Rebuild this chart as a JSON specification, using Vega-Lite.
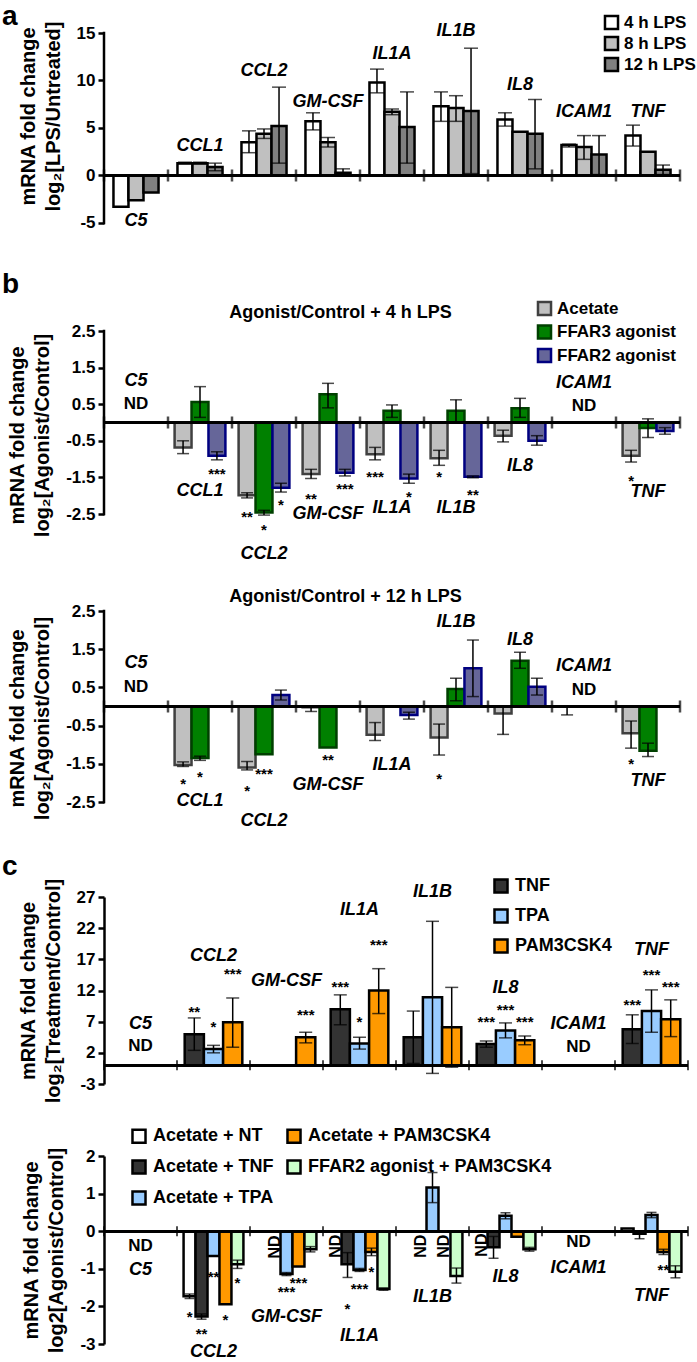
{
"$schema": "https://vega.github.io/schema/vega-lite/v6.json",
"padding": {"left": 2, "top": 3, "right": 2, "bottom": 0},
"bounds": "flush",
"spacing": 72,
"resolve": {"scale": {"fill": "independent", "stroke": "independent", "xOffset": "independent"}, "legend": {"fill": "independent", "stroke": "independent"}},
"datasets": {
"a_bars": [
{"gene":"C5","series":"4 h LPS","value":-3.3},
{"gene":"C5","series":"8 h LPS","value":-2.6},
{"gene":"C5","series":"12 h LPS","value":-1.8},
{"gene":"CCL1","series":"4 h LPS","value":1.3,"lo":1.2,"hi":1.4},
{"gene":"CCL1","series":"8 h LPS","value":1.3,"lo":1.2,"hi":1.4},
{"gene":"CCL1","series":"12 h LPS","value":0.9,"lo":0.5,"hi":1.3},
{"gene":"CCL2","series":"4 h LPS","value":3.5,"lo":2.4,"hi":4.7},
{"gene":"CCL2","series":"8 h LPS","value":4.4,"lo":3.9,"hi":4.9},
{"gene":"CCL2","series":"12 h LPS","value":5.2,"lo":1.3,"hi":9.3},
{"gene":"GM-CSF","series":"4 h LPS","value":5.7,"lo":4.8,"hi":6.6},
{"gene":"GM-CSF","series":"8 h LPS","value":3.5,"lo":3.0,"hi":4.0},
{"gene":"GM-CSF","series":"12 h LPS","value":0.3,"lo":0.0,"hi":0.7},
{"gene":"IL1A","series":"4 h LPS","value":9.8,"lo":8.7,"hi":11.2},
{"gene":"IL1A","series":"8 h LPS","value":6.7,"lo":6.4,"hi":7.0},
{"gene":"IL1A","series":"12 h LPS","value":5.1,"lo":1.3,"hi":8.8},
{"gene":"IL1B","series":"4 h LPS","value":7.3,"lo":5.7,"hi":8.8},
{"gene":"IL1B","series":"8 h LPS","value":7.1,"lo":5.7,"hi":8.4},
{"gene":"IL1B","series":"12 h LPS","value":6.8,"lo":0.2,"hi":13.4},
{"gene":"IL8","series":"4 h LPS","value":5.9,"lo":5.2,"hi":6.6},
{"gene":"IL8","series":"8 h LPS","value":4.6},
{"gene":"IL8","series":"12 h LPS","value":4.4,"lo":0.7,"hi":8.0},
{"gene":"ICAM1","series":"4 h LPS","value":3.2,"lo":3.0,"hi":3.3},
{"gene":"ICAM1","series":"8 h LPS","value":3.0,"lo":1.7,"hi":4.2},
{"gene":"ICAM1","series":"12 h LPS","value":2.2,"lo":0.1,"hi":4.2},
{"gene":"TNF","series":"4 h LPS","value":4.2,"lo":3.1,"hi":5.3},
{"gene":"TNF","series":"8 h LPS","value":2.5},
{"gene":"TNF","series":"12 h LPS","value":0.6,"lo":0.1,"hi":1.1}
],
"a_labels": [
{"gene":"C5","level":-4.8},{"gene":"CCL1","level":3.1},{"gene":"CCL2","level":11.0},{"gene":"GM-CSF","level":7.7},{"gene":"IL1A","level":12.8},{"gene":"IL1B","level":15.2},{"gene":"IL8","level":9.5},{"gene":"ICAM1","level":6.7},{"gene":"TNF","level":6.7}
],
"b1_bars": [
{"gene":"CCL1","series":"Acetate","value":-0.68,"lo":-0.85,"hi":-0.5},
{"gene":"CCL1","series":"FFAR3 agonist","value":0.56,"lo":0.14,"hi":0.98},
{"gene":"CCL1","series":"FFAR2 agonist","value":-0.91,"lo":-1.02,"hi":-0.8},
{"gene":"CCL2","series":"Acetate","value":-1.99,"lo":-2.06,"hi":-1.92},
{"gene":"CCL2","series":"FFAR3 agonist","value":-2.46,"lo":-2.53,"hi":-2.4},
{"gene":"CCL2","series":"FFAR2 agonist","value":-1.78,"lo":-1.9,"hi":-1.66},
{"gene":"GM-CSF","series":"Acetate","value":-1.41,"lo":-1.53,"hi":-1.28},
{"gene":"GM-CSF","series":"FFAR3 agonist","value":0.77,"lo":0.4,"hi":1.07},
{"gene":"GM-CSF","series":"FFAR2 agonist","value":-1.37,"lo":-1.46,"hi":-1.28},
{"gene":"IL1A","series":"Acetate","value":-0.87,"lo":-1.02,"hi":-0.68},
{"gene":"IL1A","series":"FFAR3 agonist","value":0.32,"lo":0.14,"hi":0.48},
{"gene":"IL1A","series":"FFAR2 agonist","value":-1.53,"lo":-1.66,"hi":-1.41},
{"gene":"IL1B","series":"Acetate","value":-0.98,"lo":-1.17,"hi":-0.76},
{"gene":"IL1B","series":"FFAR3 agonist","value":0.32,"lo":0.0,"hi":0.62},
{"gene":"IL1B","series":"FFAR2 agonist","value":-1.48,"lo":-1.51,"hi":-1.46},
{"gene":"IL8","series":"Acetate","value":-0.36,"lo":-0.53,"hi":-0.21},
{"gene":"IL8","series":"FFAR3 agonist","value":0.39,"lo":0.14,"hi":0.66},
{"gene":"IL8","series":"FFAR2 agonist","value":-0.5,"lo":-0.62,"hi":-0.36},
{"gene":"TNF","series":"Acetate","value":-0.91,"lo":-1.08,"hi":-0.76},
{"gene":"TNF","series":"FFAR3 agonist","value":-0.15,"lo":-0.41,"hi":0.1},
{"gene":"TNF","series":"FFAR2 agonist","value":-0.23,"lo":-0.32,"hi":-0.14}
],
"b1_stars": [
{"gene":"CCL1","series":"FFAR2 agonist","level":-1.32,"mark":"***"},
{"gene":"CCL2","series":"Acetate","level":-2.5,"mark":"**"},
{"gene":"CCL2","series":"FFAR3 agonist","level":-2.86,"mark":"*"},
{"gene":"CCL2","series":"FFAR2 agonist","level":-2.18,"mark":"*"},
{"gene":"GM-CSF","series":"Acetate","level":-2.0,"mark":"**"},
{"gene":"GM-CSF","series":"FFAR2 agonist","level":-1.73,"mark":"***"},
{"gene":"IL1A","series":"Acetate","level":-1.41,"mark":"***"},
{"gene":"IL1A","series":"FFAR2 agonist","level":-1.96,"mark":"*"},
{"gene":"IL1B","series":"Acetate","level":-1.41,"mark":"*"},
{"gene":"IL1B","series":"FFAR2 agonist","level":-1.91,"mark":"**"},
{"gene":"TNF","series":"Acetate","level":-1.53,"mark":"*"}
],
"b1_labels": [
{"gene":"C5","level":1.14},{"gene":"CCL1","level":-1.87},{"gene":"CCL2","level":-3.6},{"gene":"GM-CSF","level":-2.5},{"gene":"IL1A","level":-2.34},{"gene":"IL1B","level":-2.34},{"gene":"IL8","level":-1.18},{"gene":"ICAM1","level":1.09},{"gene":"TNF","level":-1.91}
],
"b1_nd": [{"gene":"C5","level":0.5},{"gene":"ICAM1","level":0.45}],
"b2_bars": [
{"gene":"CCL1","series":"Acetate","value":-1.53,"lo":-1.57,"hi":-1.45},
{"gene":"CCL1","series":"FFAR3 agonist","value":-1.35,"lo":-1.41,"hi":-1.3},
{"gene":"CCL2","series":"Acetate","value":-1.6,"lo":-1.66,"hi":-1.44},
{"gene":"CCL2","series":"FFAR3 agonist","value":-1.25},
{"gene":"CCL2","series":"FFAR2 agonist","value":0.3,"lo":0.17,"hi":0.43},
{"gene":"GM-CSF","series":"Acetate","value":-0.02,"lo":-0.13,"hi":0.0},
{"gene":"GM-CSF","series":"FFAR3 agonist","value":-1.07},
{"gene":"IL1A","series":"Acetate","value":-0.74,"lo":-0.89,"hi":-0.42},
{"gene":"IL1A","series":"FFAR2 agonist","value":-0.22,"lo":-0.33,"hi":-0.15},
{"gene":"IL1B","series":"Acetate","value":-0.81,"lo":-1.27,"hi":-0.46},
{"gene":"IL1B","series":"FFAR3 agonist","value":0.46,"lo":0.15,"hi":0.74},
{"gene":"IL1B","series":"FFAR2 agonist","value":1.0,"lo":0.26,"hi":1.74},
{"gene":"IL8","series":"Acetate","value":-0.18,"lo":-0.73,"hi":0.0},
{"gene":"IL8","series":"FFAR3 agonist","value":1.2,"lo":1.0,"hi":1.42},
{"gene":"IL8","series":"FFAR2 agonist","value":0.52,"lo":0.3,"hi":0.74},
{"gene":"ICAM1","series":"Acetate","value":0.0,"lo":-0.22,"hi":0.0},
{"gene":"TNF","series":"Acetate","value":-0.7,"lo":-1.09,"hi":-0.38},
{"gene":"TNF","series":"FFAR3 agonist","value":-1.16,"lo":-1.31,"hi":-0.96}
],
"b2_stars": [
{"gene":"CCL1","series":"Acetate","level":-1.96,"mark":"*"},
{"gene":"CCL1","series":"FFAR3 agonist","level":-1.77,"mark":"*"},
{"gene":"CCL2","series":"Acetate","level":-2.14,"mark":"*"},
{"gene":"CCL2","series":"FFAR3 agonist","level":-1.69,"mark":"***"},
{"gene":"GM-CSF","series":"FFAR3 agonist","level":-1.33,"mark":"**"},
{"gene":"IL1B","series":"Acetate","level":-1.82,"mark":"*"},
{"gene":"TNF","series":"Acetate","level":-1.43,"mark":"*"}
],
"b2_labels": [
{"gene":"C5","level":1.13},{"gene":"CCL1","level":-2.47},{"gene":"CCL2","level":-3.0},{"gene":"GM-CSF","level":-2.06},{"gene":"IL1A","level":-1.53},{"gene":"IL1B","level":2.22},{"gene":"IL8","level":1.74},{"gene":"ICAM1","level":1.05},{"gene":"TNF","level":-1.96}
],
"b2_nd": [{"gene":"C5","level":0.52},{"gene":"ICAM1","level":0.43}],
"c1_bars": [
{"gene":"CCL2","series":"TNF","value":5.0,"lo":2.4,"hi":7.6},
{"gene":"CCL2","series":"TPA","value":2.6,"lo":2.0,"hi":3.2},
{"gene":"CCL2","series":"PAM3CSK4","value":6.9,"lo":2.9,"hi":10.8},
{"gene":"GM-CSF","series":"PAM3CSK4","value":4.5,"lo":3.6,"hi":5.3},
{"gene":"IL1A","series":"TNF","value":9.0,"lo":6.5,"hi":11.3},
{"gene":"IL1A","series":"TPA","value":3.5,"lo":2.6,"hi":4.5},
{"gene":"IL1A","series":"PAM3CSK4","value":12.0,"lo":8.3,"hi":15.5},
{"gene":"IL1B","series":"TNF","value":4.5,"lo":0.3,"hi":8.7},
{"gene":"IL1B","series":"TPA","value":10.9,"lo":-1.3,"hi":23.1},
{"gene":"IL1B","series":"PAM3CSK4","value":6.1,"lo":-0.3,"hi":12.5},
{"gene":"IL8","series":"TNF","value":3.4,"lo":2.9,"hi":3.9},
{"gene":"IL8","series":"TPA","value":5.6,"lo":4.4,"hi":6.8},
{"gene":"IL8","series":"PAM3CSK4","value":4.0,"lo":3.3,"hi":4.7},
{"gene":"TNF","series":"TNF","value":5.8,"lo":3.5,"hi":8.1},
{"gene":"TNF","series":"TPA","value":8.7,"lo":5.3,"hi":12.1},
{"gene":"TNF","series":"PAM3CSK4","value":7.4,"lo":4.6,"hi":10.5}
],
"c1_stars": [
{"gene":"CCL2","series":"TNF","level":9.05,"mark":"**"},
{"gene":"CCL2","series":"TPA","level":6.6,"mark":"*"},
{"gene":"CCL2","series":"PAM3CSK4","level":15.1,"mark":"***"},
{"gene":"GM-CSF","series":"PAM3CSK4","level":8.6,"mark":"***"},
{"gene":"IL1A","series":"TNF","level":13.1,"mark":"***"},
{"gene":"IL1A","series":"TPA","level":7.4,"mark":"*"},
{"gene":"IL1A","series":"PAM3CSK4","level":19.8,"mark":"***"},
{"gene":"IL8","series":"TNF","level":7.4,"mark":"***"},
{"gene":"IL8","series":"TPA","level":9.3,"mark":"***"},
{"gene":"IL8","series":"PAM3CSK4","level":7.4,"mark":"***"},
{"gene":"TNF","series":"TNF","level":10.1,"mark":"***"},
{"gene":"TNF","series":"TPA","level":15.0,"mark":"***"},
{"gene":"TNF","series":"PAM3CSK4","level":13.1,"mark":"***"}
],
"c1_labels": [
{"gene":"C5","level":6.6},{"gene":"CCL2","level":17.6},{"gene":"GM-CSF","level":13.6},{"gene":"IL1A","level":24.9},{"gene":"IL1B","level":27.8},{"gene":"IL8","level":12.4},{"gene":"ICAM1","level":6.6},{"gene":"TNF","level":18.5}
],
"c1_nd": [{"gene":"C5","level":3.15},{"gene":"ICAM1","level":2.9}],
"c2_bars": [
{"gene":"CCL2","series":"Acetate + NT","value":-1.73,"lo":-1.79,"hi":-1.67},
{"gene":"CCL2","series":"Acetate + TNF","value":-2.27,"lo":-2.34,"hi":-2.2},
{"gene":"CCL2","series":"Acetate + TPA","value":-0.66},
{"gene":"CCL2","series":"Acetate + PAM3CSK4","value":-1.94},
{"gene":"CCL2","series":"FFAR2 agonist + PAM3CSK4","value":-0.88,"lo":-0.99,"hi":-0.77},
{"gene":"GM-CSF","series":"Acetate + TPA","value":-1.14,"lo":-1.18,"hi":-1.1},
{"gene":"GM-CSF","series":"Acetate + PAM3CSK4","value":-0.94},
{"gene":"GM-CSF","series":"FFAR2 agonist + PAM3CSK4","value":-0.48,"lo":-0.55,"hi":-0.41},
{"gene":"IL1A","series":"Acetate + TNF","value":-0.88,"lo":-1.23,"hi":-0.57},
{"gene":"IL1A","series":"Acetate + TPA","value":-1.03,"lo":-1.07,"hi":-0.99},
{"gene":"IL1A","series":"Acetate + PAM3CSK4","value":-0.55,"lo":-0.65,"hi":-0.45},
{"gene":"IL1A","series":"FFAR2 agonist + PAM3CSK4","value":-1.54,"lo":-1.57,"hi":-1.51},
{"gene":"IL1B","series":"Acetate + TPA","value":1.16,"lo":0.76,"hi":1.56},
{"gene":"IL1B","series":"FFAR2 agonist + PAM3CSK4","value":-1.19,"lo":-1.38,"hi":-0.98},
{"gene":"IL8","series":"Acetate + TNF","value":-0.43,"lo":-0.72,"hi":-0.14},
{"gene":"IL8","series":"Acetate + TPA","value":0.41,"lo":0.33,"hi":0.49},
{"gene":"IL8","series":"Acetate + PAM3CSK4","value":-0.15},
{"gene":"IL8","series":"FFAR2 agonist + PAM3CSK4","value":-0.48,"lo":-0.53,"hi":-0.43},
{"gene":"TNF","series":"Acetate + NT","value":0.07},
{"gene":"TNF","series":"Acetate + TNF","value":-0.07,"lo":-0.2,"hi":0.0},
{"gene":"TNF","series":"Acetate + TPA","value":0.43,"lo":0.36,"hi":0.5},
{"gene":"TNF","series":"Acetate + PAM3CSK4","value":-0.55,"lo":-0.62,"hi":-0.48},
{"gene":"TNF","series":"FFAR2 agonist + PAM3CSK4","value":-1.08,"lo":-1.24,"hi":-0.92}
],
"c2_stars": [
{"gene":"CCL2","series":"Acetate + NT","level":-2.2,"mark":"*"},
{"gene":"CCL2","series":"Acetate + TNF","level":-2.65,"mark":"**"},
{"gene":"CCL2","series":"Acetate + TPA","level":-1.14,"mark":"**"},
{"gene":"CCL2","series":"Acetate + PAM3CSK4","level":-2.29,"mark":"*"},
{"gene":"CCL2","series":"FFAR2 agonist + PAM3CSK4","level":-1.29,"mark":"*"},
{"gene":"GM-CSF","series":"Acetate + TPA","level":-1.54,"mark":"***"},
{"gene":"GM-CSF","series":"Acetate + PAM3CSK4","level":-1.29,"mark":"***"},
{"gene":"IL1A","series":"Acetate + TNF","level":-1.99,"mark":"*"},
{"gene":"IL1A","series":"Acetate + TPA","level":-1.46,"mark":"***"},
{"gene":"IL1A","series":"Acetate + PAM3CSK4","level":-1.0,"mark":"*"},
{"gene":"TNF","series":"Acetate + PAM3CSK4","level":-0.94,"mark":"**"}
],
"c2_labels": [
{"gene":"C5","level":-1.03},{"gene":"CCL2","level":-3.2},{"gene":"GM-CSF","level":-2.27},{"gene":"IL1A","level":-2.78},{"gene":"IL1B","level":-1.76},{"gene":"IL8","level":-1.23},{"gene":"ICAM1","level":-0.99},{"gene":"TNF","level":-1.72}
],
"c2_nd": [{"gene":"C5","level":-0.39},{"gene":"ICAM1","level":-0.3}],
"c2_ndv": [
{"gene":"GM-CSF","series":"Acetate + TNF","level":-0.42},
{"gene":"IL1A","series":"Acetate + NT","level":-0.4},
{"gene":"IL1B","series":"Acetate + TNF","level":-0.4},
{"gene":"IL1B","series":"Acetate + PAM3CSK4","level":-0.4},
{"gene":"IL8","series":"Acetate + NT","level":-0.37}
]
},
"vconcat": [
{
"width": 576, "height": 226,
"title": {"text": "a", "anchor": "start", "frame": "group", "dx": -102, "dy": 21},
"layer": [
{"data": {"name": "a_bars"},
 "mark": {"type": "bar", "stroke": "black", "strokeWidth": 2.5},
 "encoding": {
  "x": {"field": "gene", "type": "nominal", "scale": {"domain": ["C5","CCL1","CCL2","GM-CSF","IL1A","IL1B","IL8","ICAM1","TNF"], "paddingInner": 0, "paddingOuter": 0}, "axis": null},
  "xOffset": {"field": "series", "type": "nominal", "scale": {"domain": ["4 h LPS","8 h LPS","12 h LPS"], "paddingInner": 0, "paddingOuter": 0.63}},
  "y": {"field": "value", "type": "quantitative", "scale": {"domain": [-8.79, 15], "nice": false, "zero": false}, "axis": {"values": [-5,0,5,10,15], "domain": false, "titleY": 83, "title": ["mRNA fold change", "log₂[LPS/Untreated]"]}},
  "y2": {"datum": 0},
  "fill": {"field": "series", "type": "nominal", "scale": {"domain": ["4 h LPS","8 h LPS","12 h LPS"], "range": ["#ffffff","#c0c0c0","#808080"]}, "legend": {"title": null, "orient": "none", "legendX": 499, "legendY": -19, "symbolStrokeColor": "black", "labelFontSize": 17, "labelOffset": 4, "rowPadding": -4}}
 }},
{"data": {"name": "a_bars"}, "transform": [{"filter": "isValid(datum.lo)"}],
 "mark": {"type": "rule", "color": "black", "strokeWidth": 1.5},
 "encoding": {
  "x": {"field": "gene", "type": "nominal", "scale": {"domain": ["C5","CCL1","CCL2","GM-CSF","IL1A","IL1B","IL8","ICAM1","TNF"], "paddingInner": 0, "paddingOuter": 0}, "axis": null},
  "xOffset": {"field": "series", "type": "nominal", "scale": {"domain": ["4 h LPS","8 h LPS","12 h LPS"], "paddingInner": 0, "paddingOuter": 0.63}},
  "y": {"field": "lo", "type": "quantitative", "scale": {"domain": [-8.79, 15], "nice": false, "zero": false}, "axis": {"values": [-5,0,5,10,15], "domain": false, "titleY": 83, "title": ["mRNA fold change", "log₂[LPS/Untreated]"]}},
  "y2": {"field": "hi"}
 }},
{"data": {"name": "a_bars"}, "transform": [{"filter": "isValid(datum.lo)"}, {"fold": ["lo","hi"], "as": ["end","at"]}],
 "mark": {"type": "tick", "orient": "horizontal", "color": "black", "thickness": 1.5, "size": 14},
 "encoding": {
  "x": {"field": "gene", "type": "nominal", "scale": {"domain": ["C5","CCL1","CCL2","GM-CSF","IL1A","IL1B","IL8","ICAM1","TNF"], "paddingInner": 0, "paddingOuter": 0}, "axis": null},
  "xOffset": {"field": "series", "type": "nominal", "scale": {"domain": ["4 h LPS","8 h LPS","12 h LPS"], "paddingInner": 0, "paddingOuter": 0.63}},
  "y": {"field": "at", "type": "quantitative", "scale": {"domain": [-8.79, 15], "nice": false, "zero": false}, "axis": {"values": [-5,0,5,10,15], "domain": false, "titleY": 83, "title": ["mRNA fold change", "log₂[LPS/Untreated]"]}}
 }},
{"data": {"name": "a_labels"},
 "mark": {"type": "text", "fontSize": 18, "fontWeight": "bold", "fontStyle": "italic", "baseline": "middle"},
 "encoding": {
  "x": {"field": "gene", "type": "nominal", "scale": {"domain": ["C5","CCL1","CCL2","GM-CSF","IL1A","IL1B","IL8","ICAM1","TNF"], "paddingInner": 0, "paddingOuter": 0}, "axis": null},
  "y": {"field": "level", "type": "quantitative", "scale": {"domain": [-8.79, 15], "nice": false, "zero": false}, "axis": {"values": [-5,0,5,10,15], "domain": false, "titleY": 83, "title": ["mRNA fold change", "log₂[LPS/Untreated]"]}},
  "text": {"field": "gene"}
 }},
{"data": {"name": "a_labels"},
 "mark": {"type": "rule", "color": "black", "strokeWidth": 2.5},
 "encoding": {"y": {"datum": 0, "type": "quantitative", "scale": {"domain": [-8.79, 15], "nice": false, "zero": false}, "axis": {"values": [-5,0,5,10,15], "domain": false, "titleY": 83, "title": ["mRNA fold change", "log₂[LPS/Untreated]"]}}}},
{"data": {"name": "a_labels"},
 "mark": {"type": "tick", "orient": "vertical", "color": "black", "thickness": 2.5, "size": 12},
 "encoding": {
  "x": {"field": "gene", "type": "nominal", "bandPosition": 0, "scale": {"domain": ["C5","CCL1","CCL2","GM-CSF","IL1A","IL1B","IL8","ICAM1","TNF"], "paddingInner": 0, "paddingOuter": 0}, "axis": null},
  "y": {"datum": 0, "type": "quantitative", "scale": {"domain": [-8.79, 15], "nice": false, "zero": false}, "axis": {"values": [-5,0,5,10,15], "domain": false, "titleY": 83, "title": ["mRNA fold change", "log₂[LPS/Untreated]"]}}
 }},
{"data": {"name": "a_labels"}, "transform": [{"filter": "datum.gene == 'TNF'"}],
 "mark": {"type": "tick", "orient": "vertical", "color": "black", "thickness": 2.5, "size": 12},
 "encoding": {
  "x": {"field": "gene", "type": "nominal", "bandPosition": 1, "scale": {"domain": ["C5","CCL1","CCL2","GM-CSF","IL1A","IL1B","IL8","ICAM1","TNF"], "paddingInner": 0, "paddingOuter": 0}, "axis": null},
  "y": {"datum": 0, "type": "quantitative", "scale": {"domain": [-8.79, 15], "nice": false, "zero": false}, "axis": {"values": [-5,0,5,10,15], "domain": false, "titleY": 83, "title": ["mRNA fold change", "log₂[LPS/Untreated]"]}}
 }},
{"data": {"name": "a_labels"}, "transform": [{"filter": "datum.gene == 'C5'"}],
 "mark": {"type": "rule", "color": "black", "strokeWidth": 2.5, "strokeCap": "square"},
 "encoding": {
  "x": {"field": "gene", "type": "nominal", "bandPosition": 0, "scale": {"domain": ["C5","CCL1","CCL2","GM-CSF","IL1A","IL1B","IL8","ICAM1","TNF"], "paddingInner": 0, "paddingOuter": 0}, "axis": null},
  "y": {"datum": -5, "type": "quantitative", "scale": {"domain": [-8.79, 15], "nice": false, "zero": false}, "axis": {"values": [-5,0,5,10,15], "domain": false, "titleY": 83, "title": ["mRNA fold change", "log₂[LPS/Untreated]"]}},
  "y2": {"datum": 15}
 }}
]
},
{
"width": 576, "height": 208,
"title": {"text": "b", "anchor": "start", "frame": "group", "dx": -102, "dy": 3},
"layer": [
{"data": {"name": "b1_bars"},
 "mark": {"type": "bar", "strokeWidth": 2.5},
 "encoding": {
  "x": {"field": "gene", "type": "nominal", "scale": {"domain": ["C5","CCL1","CCL2","GM-CSF","IL1A","IL1B","IL8","ICAM1","TNF"], "paddingInner": 0, "paddingOuter": 0}, "axis": {"orient": "top", "title": "Agonist/Control + 4 h LPS", "labels": false, "ticks": false, "domain": false, "titleX": 236, "titlePadding": 10, "titleFontSize": 18}},
  "xOffset": {"field": "series", "type": "nominal", "scale": {"domain": ["Acetate","FFAR3 agonist","FFAR2 agonist"], "paddingInner": 0, "paddingOuter": 0.39}},
  "y": {"field": "value", "type": "quantitative", "scale": {"domain": [-3.183, 2.5], "nice": false, "zero": false}, "axis": {"values": [-2.5,-1.5,-0.5,0.5,1.5,2.5], "format": ".1f", "domain": false, "title": ["mRNA fold change", "log₂[Agonist/Control]"]}},
  "y2": {"datum": 0},
  "fill": {"field": "series", "type": "nominal", "scale": {"domain": ["Acetate","FFAR3 agonist","FFAR2 agonist"], "range": ["#c0c0c0","#008000","#666699"]}, "legend": {"title": null, "orient": "none", "legendX": 432, "legendY": -31, "labelFontSize": 17, "labelOffset": 4, "rowPadding": -1.5}},
  "stroke": {"field": "series", "type": "nominal", "scale": {"domain": ["Acetate","FFAR3 agonist","FFAR2 agonist"], "range": ["#404040","#004000","#000080"]}, "legend": {"title": null, "orient": "none", "legendX": 432, "legendY": -31, "labelFontSize": 17, "labelOffset": 4, "rowPadding": -1.5}}
 }},
{"data": {"name": "b1_bars"}, "transform": [{"filter": "isValid(datum.lo)"}],
 "mark": {"type": "rule", "color": "black", "strokeWidth": 1.5},
 "encoding": {
  "x": {"field": "gene", "type": "nominal", "scale": {"domain": ["C5","CCL1","CCL2","GM-CSF","IL1A","IL1B","IL8","ICAM1","TNF"], "paddingInner": 0, "paddingOuter": 0}, "axis": {"orient": "top", "title": "Agonist/Control + 4 h LPS", "labels": false, "ticks": false, "domain": false, "titleX": 236, "titlePadding": 10, "titleFontSize": 18}},
  "xOffset": {"field": "series", "type": "nominal", "scale": {"domain": ["Acetate","FFAR3 agonist","FFAR2 agonist"], "paddingInner": 0, "paddingOuter": 0.39}},
  "y": {"field": "lo", "type": "quantitative", "scale": {"domain": [-3.183, 2.5], "nice": false, "zero": false}, "axis": {"values": [-2.5,-1.5,-0.5,0.5,1.5,2.5], "format": ".1f", "domain": false, "title": ["mRNA fold change", "log₂[Agonist/Control]"]}},
  "y2": {"field": "hi"}
 }},
{"data": {"name": "b1_bars"}, "transform": [{"filter": "isValid(datum.lo)"}, {"fold": ["lo","hi"], "as": ["end","at"]}],
 "mark": {"type": "tick", "orient": "horizontal", "color": "black", "thickness": 1.5, "size": 12},
 "encoding": {
  "x": {"field": "gene", "type": "nominal", "scale": {"domain": ["C5","CCL1","CCL2","GM-CSF","IL1A","IL1B","IL8","ICAM1","TNF"], "paddingInner": 0, "paddingOuter": 0}, "axis": {"orient": "top", "title": "Agonist/Control + 4 h LPS", "labels": false, "ticks": false, "domain": false, "titleX": 236, "titlePadding": 10, "titleFontSize": 18}},
  "xOffset": {"field": "series", "type": "nominal", "scale": {"domain": ["Acetate","FFAR3 agonist","FFAR2 agonist"], "paddingInner": 0, "paddingOuter": 0.39}},
  "y": {"field": "at", "type": "quantitative", "scale": {"domain": [-3.183, 2.5], "nice": false, "zero": false}, "axis": {"values": [-2.5,-1.5,-0.5,0.5,1.5,2.5], "format": ".1f", "domain": false, "title": ["mRNA fold change", "log₂[Agonist/Control]"]}}
 }},
{"data": {"name": "b1_stars"},
 "mark": {"type": "text", "fontSize": 15, "fontWeight": "bold", "baseline": "middle", "dy": 3},
 "encoding": {
  "x": {"field": "gene", "type": "nominal", "scale": {"domain": ["C5","CCL1","CCL2","GM-CSF","IL1A","IL1B","IL8","ICAM1","TNF"], "paddingInner": 0, "paddingOuter": 0}, "axis": {"orient": "top", "title": "Agonist/Control + 4 h LPS", "labels": false, "ticks": false, "domain": false, "titleX": 236, "titlePadding": 10, "titleFontSize": 18}},
  "xOffset": {"field": "series", "type": "nominal", "scale": {"domain": ["Acetate","FFAR3 agonist","FFAR2 agonist"], "paddingInner": 0, "paddingOuter": 0.39}},
  "y": {"field": "level", "type": "quantitative", "scale": {"domain": [-3.183, 2.5], "nice": false, "zero": false}, "axis": {"values": [-2.5,-1.5,-0.5,0.5,1.5,2.5], "format": ".1f", "domain": false, "title": ["mRNA fold change", "log₂[Agonist/Control]"]}},
  "text": {"field": "mark"}
 }},
{"data": {"name": "b1_labels"},
 "mark": {"type": "text", "fontSize": 18, "fontWeight": "bold", "fontStyle": "italic", "baseline": "middle"},
 "encoding": {
  "x": {"field": "gene", "type": "nominal", "scale": {"domain": ["C5","CCL1","CCL2","GM-CSF","IL1A","IL1B","IL8","ICAM1","TNF"], "paddingInner": 0, "paddingOuter": 0}, "axis": {"orient": "top", "title": "Agonist/Control + 4 h LPS", "labels": false, "ticks": false, "domain": false, "titleX": 236, "titlePadding": 10, "titleFontSize": 18}},
  "y": {"field": "level", "type": "quantitative", "scale": {"domain": [-3.183, 2.5], "nice": false, "zero": false}, "axis": {"values": [-2.5,-1.5,-0.5,0.5,1.5,2.5], "format": ".1f", "domain": false, "title": ["mRNA fold change", "log₂[Agonist/Control]"]}},
  "text": {"field": "gene"}
 }},
{"data": {"name": "b1_nd"},
 "mark": {"type": "text", "fontSize": 17, "fontWeight": "bold", "baseline": "middle", "text": "ND"},
 "encoding": {
  "x": {"field": "gene", "type": "nominal", "scale": {"domain": ["C5","CCL1","CCL2","GM-CSF","IL1A","IL1B","IL8","ICAM1","TNF"], "paddingInner": 0, "paddingOuter": 0}, "axis": {"orient": "top", "title": "Agonist/Control + 4 h LPS", "labels": false, "ticks": false, "domain": false, "titleX": 236, "titlePadding": 10, "titleFontSize": 18}},
  "y": {"field": "level", "type": "quantitative", "scale": {"domain": [-3.183, 2.5], "nice": false, "zero": false}, "axis": {"values": [-2.5,-1.5,-0.5,0.5,1.5,2.5], "format": ".1f", "domain": false, "title": ["mRNA fold change", "log₂[Agonist/Control]"]}}
 }},
{"data": {"name": "b1_labels"},
 "mark": {"type": "rule", "color": "black", "strokeWidth": 2.5},
 "encoding": {"y": {"datum": 0, "type": "quantitative", "scale": {"domain": [-3.183, 2.5], "nice": false, "zero": false}, "axis": {"values": [-2.5,-1.5,-0.5,0.5,1.5,2.5], "format": ".1f", "domain": false, "title": ["mRNA fold change", "log₂[Agonist/Control]"]}}}},
{"data": {"name": "b1_labels"},
 "mark": {"type": "tick", "orient": "vertical", "color": "black", "thickness": 2.5, "size": 12},
 "encoding": {
  "x": {"field": "gene", "type": "nominal", "bandPosition": 0, "scale": {"domain": ["C5","CCL1","CCL2","GM-CSF","IL1A","IL1B","IL8","ICAM1","TNF"], "paddingInner": 0, "paddingOuter": 0}, "axis": {"orient": "top", "title": "Agonist/Control + 4 h LPS", "labels": false, "ticks": false, "domain": false, "titleX": 236, "titlePadding": 10, "titleFontSize": 18}},
  "y": {"datum": 0, "type": "quantitative", "scale": {"domain": [-3.183, 2.5], "nice": false, "zero": false}, "axis": {"values": [-2.5,-1.5,-0.5,0.5,1.5,2.5], "format": ".1f", "domain": false, "title": ["mRNA fold change", "log₂[Agonist/Control]"]}}
 }},
{"data": {"name": "b1_labels"}, "transform": [{"filter": "datum.gene == 'TNF'"}],
 "mark": {"type": "tick", "orient": "vertical", "color": "black", "thickness": 2.5, "size": 12},
 "encoding": {
  "x": {"field": "gene", "type": "nominal", "bandPosition": 1, "scale": {"domain": ["C5","CCL1","CCL2","GM-CSF","IL1A","IL1B","IL8","ICAM1","TNF"], "paddingInner": 0, "paddingOuter": 0}, "axis": {"orient": "top", "title": "Agonist/Control + 4 h LPS", "labels": false, "ticks": false, "domain": false, "titleX": 236, "titlePadding": 10, "titleFontSize": 18}},
  "y": {"datum": 0, "type": "quantitative", "scale": {"domain": [-3.183, 2.5], "nice": false, "zero": false}, "axis": {"values": [-2.5,-1.5,-0.5,0.5,1.5,2.5], "format": ".1f", "domain": false, "title": ["mRNA fold change", "log₂[Agonist/Control]"]}}
 }},
{"data": {"name": "b1_labels"}, "transform": [{"filter": "datum.gene == 'C5'"}],
 "mark": {"type": "rule", "color": "black", "strokeWidth": 2.5, "strokeCap": "square"},
 "encoding": {
  "x": {"field": "gene", "type": "nominal", "bandPosition": 0, "scale": {"domain": ["C5","CCL1","CCL2","GM-CSF","IL1A","IL1B","IL8","ICAM1","TNF"], "paddingInner": 0, "paddingOuter": 0}, "axis": {"orient": "top", "title": "Agonist/Control + 4 h LPS", "labels": false, "ticks": false, "domain": false, "titleX": 236, "titlePadding": 10, "titleFontSize": 18}},
  "y": {"datum": -2.5, "type": "quantitative", "scale": {"domain": [-3.183, 2.5], "nice": false, "zero": false}, "axis": {"values": [-2.5,-1.5,-0.5,0.5,1.5,2.5], "format": ".1f", "domain": false, "title": ["mRNA fold change", "log₂[Agonist/Control]"]}},
  "y2": {"datum": 2.5}
 }}
]
},
{
"width": 576, "height": 214,
"layer": [
{"data": {"name": "b2_bars"},
 "mark": {"type": "bar", "strokeWidth": 2.5},
 "encoding": {
  "x": {"field": "gene", "type": "nominal", "scale": {"domain": ["C5","CCL1","CCL2","GM-CSF","IL1A","IL1B","IL8","ICAM1","TNF"], "paddingInner": 0, "paddingOuter": 0}, "axis": {"orient": "top", "title": "Agonist/Control + 12 h LPS", "labels": false, "ticks": false, "domain": false, "titleX": 241, "titlePadding": 6, "titleFontSize": 18}},
  "xOffset": {"field": "series", "type": "nominal", "scale": {"domain": ["Acetate","FFAR3 agonist","FFAR2 agonist"], "paddingInner": 0, "paddingOuter": 0.39}},
  "y": {"field": "value", "type": "quantitative", "scale": {"domain": [-3.102, 2.5], "nice": false, "zero": false}, "axis": {"values": [-2.5,-1.5,-0.5,0.5,1.5,2.5], "format": ".1f", "domain": false, "title": ["mRNA fold change", "log₂[Agonist/Control]"]}},
  "y2": {"datum": 0},
  "fill": {"field": "series", "type": "nominal", "scale": {"domain": ["Acetate","FFAR3 agonist","FFAR2 agonist"], "range": ["#c0c0c0","#008000","#666699"]}, "legend": null},
  "stroke": {"field": "series", "type": "nominal", "scale": {"domain": ["Acetate","FFAR3 agonist","FFAR2 agonist"], "range": ["#404040","#004000","#000080"]}, "legend": null}
 }},
{"data": {"name": "b2_bars"}, "transform": [{"filter": "isValid(datum.lo)"}],
 "mark": {"type": "rule", "color": "black", "strokeWidth": 1.5},
 "encoding": {
  "x": {"field": "gene", "type": "nominal", "scale": {"domain": ["C5","CCL1","CCL2","GM-CSF","IL1A","IL1B","IL8","ICAM1","TNF"], "paddingInner": 0, "paddingOuter": 0}, "axis": {"orient": "top", "title": "Agonist/Control + 12 h LPS", "labels": false, "ticks": false, "domain": false, "titleX": 241, "titlePadding": 6, "titleFontSize": 18}},
  "xOffset": {"field": "series", "type": "nominal", "scale": {"domain": ["Acetate","FFAR3 agonist","FFAR2 agonist"], "paddingInner": 0, "paddingOuter": 0.39}},
  "y": {"field": "lo", "type": "quantitative", "scale": {"domain": [-3.102, 2.5], "nice": false, "zero": false}, "axis": {"values": [-2.5,-1.5,-0.5,0.5,1.5,2.5], "format": ".1f", "domain": false, "title": ["mRNA fold change", "log₂[Agonist/Control]"]}},
  "y2": {"field": "hi"}
 }},
{"data": {"name": "b2_bars"}, "transform": [{"filter": "isValid(datum.lo)"}, {"fold": ["lo","hi"], "as": ["end","at"]}],
 "mark": {"type": "tick", "orient": "horizontal", "color": "black", "thickness": 1.5, "size": 12},
 "encoding": {
  "x": {"field": "gene", "type": "nominal", "scale": {"domain": ["C5","CCL1","CCL2","GM-CSF","IL1A","IL1B","IL8","ICAM1","TNF"], "paddingInner": 0, "paddingOuter": 0}, "axis": {"orient": "top", "title": "Agonist/Control + 12 h LPS", "labels": false, "ticks": false, "domain": false, "titleX": 241, "titlePadding": 6, "titleFontSize": 18}},
  "xOffset": {"field": "series", "type": "nominal", "scale": {"domain": ["Acetate","FFAR3 agonist","FFAR2 agonist"], "paddingInner": 0, "paddingOuter": 0.39}},
  "y": {"field": "at", "type": "quantitative", "scale": {"domain": [-3.102, 2.5], "nice": false, "zero": false}, "axis": {"values": [-2.5,-1.5,-0.5,0.5,1.5,2.5], "format": ".1f", "domain": false, "title": ["mRNA fold change", "log₂[Agonist/Control]"]}}
 }},
{"data": {"name": "b2_stars"},
 "mark": {"type": "text", "fontSize": 15, "fontWeight": "bold", "baseline": "middle", "dy": 3},
 "encoding": {
  "x": {"field": "gene", "type": "nominal", "scale": {"domain": ["C5","CCL1","CCL2","GM-CSF","IL1A","IL1B","IL8","ICAM1","TNF"], "paddingInner": 0, "paddingOuter": 0}, "axis": {"orient": "top", "title": "Agonist/Control + 12 h LPS", "labels": false, "ticks": false, "domain": false, "titleX": 241, "titlePadding": 6, "titleFontSize": 18}},
  "xOffset": {"field": "series", "type": "nominal", "scale": {"domain": ["Acetate","FFAR3 agonist","FFAR2 agonist"], "paddingInner": 0, "paddingOuter": 0.39}},
  "y": {"field": "level", "type": "quantitative", "scale": {"domain": [-3.102, 2.5], "nice": false, "zero": false}, "axis": {"values": [-2.5,-1.5,-0.5,0.5,1.5,2.5], "format": ".1f", "domain": false, "title": ["mRNA fold change", "log₂[Agonist/Control]"]}},
  "text": {"field": "mark"}
 }},
{"data": {"name": "b2_labels"},
 "mark": {"type": "text", "fontSize": 18, "fontWeight": "bold", "fontStyle": "italic", "baseline": "middle"},
 "encoding": {
  "x": {"field": "gene", "type": "nominal", "scale": {"domain": ["C5","CCL1","CCL2","GM-CSF","IL1A","IL1B","IL8","ICAM1","TNF"], "paddingInner": 0, "paddingOuter": 0}, "axis": {"orient": "top", "title": "Agonist/Control + 12 h LPS", "labels": false, "ticks": false, "domain": false, "titleX": 241, "titlePadding": 6, "titleFontSize": 18}},
  "y": {"field": "level", "type": "quantitative", "scale": {"domain": [-3.102, 2.5], "nice": false, "zero": false}, "axis": {"values": [-2.5,-1.5,-0.5,0.5,1.5,2.5], "format": ".1f", "domain": false, "title": ["mRNA fold change", "log₂[Agonist/Control]"]}},
  "text": {"field": "gene"}
 }},
{"data": {"name": "b2_nd"},
 "mark": {"type": "text", "fontSize": 17, "fontWeight": "bold", "baseline": "middle", "text": "ND"},
 "encoding": {
  "x": {"field": "gene", "type": "nominal", "scale": {"domain": ["C5","CCL1","CCL2","GM-CSF","IL1A","IL1B","IL8","ICAM1","TNF"], "paddingInner": 0, "paddingOuter": 0}, "axis": {"orient": "top", "title": "Agonist/Control + 12 h LPS", "labels": false, "ticks": false, "domain": false, "titleX": 241, "titlePadding": 6, "titleFontSize": 18}},
  "y": {"field": "level", "type": "quantitative", "scale": {"domain": [-3.102, 2.5], "nice": false, "zero": false}, "axis": {"values": [-2.5,-1.5,-0.5,0.5,1.5,2.5], "format": ".1f", "domain": false, "title": ["mRNA fold change", "log₂[Agonist/Control]"]}}
 }},
{"data": {"name": "b2_labels"},
 "mark": {"type": "rule", "color": "black", "strokeWidth": 2.5},
 "encoding": {"y": {"datum": 0, "type": "quantitative", "scale": {"domain": [-3.102, 2.5], "nice": false, "zero": false}, "axis": {"values": [-2.5,-1.5,-0.5,0.5,1.5,2.5], "format": ".1f", "domain": false, "title": ["mRNA fold change", "log₂[Agonist/Control]"]}}}},
{"data": {"name": "b2_labels"},
 "mark": {"type": "tick", "orient": "vertical", "color": "black", "thickness": 2.5, "size": 12},
 "encoding": {
  "x": {"field": "gene", "type": "nominal", "bandPosition": 0, "scale": {"domain": ["C5","CCL1","CCL2","GM-CSF","IL1A","IL1B","IL8","ICAM1","TNF"], "paddingInner": 0, "paddingOuter": 0}, "axis": {"orient": "top", "title": "Agonist/Control + 12 h LPS", "labels": false, "ticks": false, "domain": false, "titleX": 241, "titlePadding": 6, "titleFontSize": 18}},
  "y": {"datum": 0, "type": "quantitative", "scale": {"domain": [-3.102, 2.5], "nice": false, "zero": false}, "axis": {"values": [-2.5,-1.5,-0.5,0.5,1.5,2.5], "format": ".1f", "domain": false, "title": ["mRNA fold change", "log₂[Agonist/Control]"]}}
 }},
{"data": {"name": "b2_labels"}, "transform": [{"filter": "datum.gene == 'TNF'"}],
 "mark": {"type": "tick", "orient": "vertical", "color": "black", "thickness": 2.5, "size": 12},
 "encoding": {
  "x": {"field": "gene", "type": "nominal", "bandPosition": 1, "scale": {"domain": ["C5","CCL1","CCL2","GM-CSF","IL1A","IL1B","IL8","ICAM1","TNF"], "paddingInner": 0, "paddingOuter": 0}, "axis": {"orient": "top", "title": "Agonist/Control + 12 h LPS", "labels": false, "ticks": false, "domain": false, "titleX": 241, "titlePadding": 6, "titleFontSize": 18}},
  "y": {"datum": 0, "type": "quantitative", "scale": {"domain": [-3.102, 2.5], "nice": false, "zero": false}, "axis": {"values": [-2.5,-1.5,-0.5,0.5,1.5,2.5], "format": ".1f", "domain": false, "title": ["mRNA fold change", "log₂[Agonist/Control]"]}}
 }},
{"data": {"name": "b2_labels"}, "transform": [{"filter": "datum.gene == 'C5'"}],
 "mark": {"type": "rule", "color": "black", "strokeWidth": 2.5, "strokeCap": "square"},
 "encoding": {
  "x": {"field": "gene", "type": "nominal", "bandPosition": 0, "scale": {"domain": ["C5","CCL1","CCL2","GM-CSF","IL1A","IL1B","IL8","ICAM1","TNF"], "paddingInner": 0, "paddingOuter": 0}, "axis": {"orient": "top", "title": "Agonist/Control + 12 h LPS", "labels": false, "ticks": false, "domain": false, "titleX": 241, "titlePadding": 6, "titleFontSize": 18}},
  "y": {"datum": -2.5, "type": "quantitative", "scale": {"domain": [-3.102, 2.5], "nice": false, "zero": false}, "axis": {"values": [-2.5,-1.5,-0.5,0.5,1.5,2.5], "format": ".1f", "domain": false, "title": ["mRNA fold change", "log₂[Agonist/Control]"]}},
  "y2": {"datum": 2.5}
 }}
]
},
{
"width": 584, "height": 187,
"title": {"text": "c", "anchor": "start", "frame": "group", "dx": -102, "dy": 8},
"layer": [
{"data": {"name": "c1_bars"},
 "mark": {"type": "bar", "stroke": "black", "strokeWidth": 2.5},
 "encoding": {
  "x": {"field": "gene", "type": "nominal", "scale": {"domain": ["C5","CCL2","GM-CSF","IL1A","IL1B","IL8","ICAM1","TNF"], "paddingInner": 0, "paddingOuter": 0}, "axis": null},
  "xOffset": {"field": "series", "type": "nominal", "scale": {"domain": ["TNF","TPA","PAM3CSK4"], "paddingInner": 0, "paddingOuter": 0.4}},
  "y": {"field": "value", "type": "quantitative", "scale": {"domain": [-3, 27], "nice": false, "zero": false}, "axis": {"values": [-3,2,7,12,17,22,27], "title": ["mRNA fold change", "log₂[Treatment/Control]"]}},
  "y2": {"datum": 0},
  "fill": {"field": "series", "type": "nominal", "scale": {"domain": ["TNF","TPA","PAM3CSK4"], "range": ["#333333","#99ccff","#ff9900"]}, "legend": {"title": null, "orient": "none", "legendX": 388, "legendY": -20, "symbolStrokeColor": "black", "rowPadding": 6}}
 }},
{"data": {"name": "c1_bars"}, "transform": [{"filter": "isValid(datum.lo)"}],
 "mark": {"type": "rule", "color": "black", "strokeWidth": 1.5},
 "encoding": {
  "x": {"field": "gene", "type": "nominal", "scale": {"domain": ["C5","CCL2","GM-CSF","IL1A","IL1B","IL8","ICAM1","TNF"], "paddingInner": 0, "paddingOuter": 0}, "axis": null},
  "xOffset": {"field": "series", "type": "nominal", "scale": {"domain": ["TNF","TPA","PAM3CSK4"], "paddingInner": 0, "paddingOuter": 0.4}},
  "y": {"field": "lo", "type": "quantitative", "scale": {"domain": [-3, 27], "nice": false, "zero": false}, "axis": {"values": [-3,2,7,12,17,22,27], "title": ["mRNA fold change", "log₂[Treatment/Control]"]}},
  "y2": {"field": "hi"}
 }},
{"data": {"name": "c1_bars"}, "transform": [{"filter": "isValid(datum.lo)"}, {"fold": ["lo","hi"], "as": ["end","at"]}],
 "mark": {"type": "tick", "orient": "horizontal", "color": "black", "thickness": 1.5, "size": 13},
 "encoding": {
  "x": {"field": "gene", "type": "nominal", "scale": {"domain": ["C5","CCL2","GM-CSF","IL1A","IL1B","IL8","ICAM1","TNF"], "paddingInner": 0, "paddingOuter": 0}, "axis": null},
  "xOffset": {"field": "series", "type": "nominal", "scale": {"domain": ["TNF","TPA","PAM3CSK4"], "paddingInner": 0, "paddingOuter": 0.4}},
  "y": {"field": "at", "type": "quantitative", "scale": {"domain": [-3, 27], "nice": false, "zero": false}, "axis": {"values": [-3,2,7,12,17,22,27], "title": ["mRNA fold change", "log₂[Treatment/Control]"]}}
 }},
{"data": {"name": "c1_stars"},
 "mark": {"type": "text", "fontSize": 15, "fontWeight": "bold", "baseline": "middle", "dy": 3},
 "encoding": {
  "x": {"field": "gene", "type": "nominal", "scale": {"domain": ["C5","CCL2","GM-CSF","IL1A","IL1B","IL8","ICAM1","TNF"], "paddingInner": 0, "paddingOuter": 0}, "axis": null},
  "xOffset": {"field": "series", "type": "nominal", "scale": {"domain": ["TNF","TPA","PAM3CSK4"], "paddingInner": 0, "paddingOuter": 0.4}},
  "y": {"field": "level", "type": "quantitative", "scale": {"domain": [-3, 27], "nice": false, "zero": false}, "axis": {"values": [-3,2,7,12,17,22,27], "title": ["mRNA fold change", "log₂[Treatment/Control]"]}},
  "text": {"field": "mark"}
 }},
{"data": {"name": "c1_labels"},
 "mark": {"type": "text", "fontSize": 18, "fontWeight": "bold", "fontStyle": "italic", "baseline": "middle"},
 "encoding": {
  "x": {"field": "gene", "type": "nominal", "scale": {"domain": ["C5","CCL2","GM-CSF","IL1A","IL1B","IL8","ICAM1","TNF"], "paddingInner": 0, "paddingOuter": 0}, "axis": null},
  "y": {"field": "level", "type": "quantitative", "scale": {"domain": [-3, 27], "nice": false, "zero": false}, "axis": {"values": [-3,2,7,12,17,22,27], "title": ["mRNA fold change", "log₂[Treatment/Control]"]}},
  "text": {"field": "gene"}
 }},
{"data": {"name": "c1_nd"},
 "mark": {"type": "text", "fontSize": 17, "fontWeight": "bold", "baseline": "middle", "text": "ND"},
 "encoding": {
  "x": {"field": "gene", "type": "nominal", "scale": {"domain": ["C5","CCL2","GM-CSF","IL1A","IL1B","IL8","ICAM1","TNF"], "paddingInner": 0, "paddingOuter": 0}, "axis": null},
  "y": {"field": "level", "type": "quantitative", "scale": {"domain": [-3, 27], "nice": false, "zero": false}, "axis": {"values": [-3,2,7,12,17,22,27], "title": ["mRNA fold change", "log₂[Treatment/Control]"]}}
 }},
{"data": {"name": "c1_labels"},
 "mark": {"type": "rule", "color": "black", "strokeWidth": 2.5},
 "encoding": {"y": {"datum": 0, "type": "quantitative", "scale": {"domain": [-3, 27], "nice": false, "zero": false}, "axis": {"values": [-3,2,7,12,17,22,27], "title": ["mRNA fold change", "log₂[Treatment/Control]"]}}}},
{"data": {"name": "c1_labels"},
 "mark": {"type": "tick", "orient": "vertical", "color": "black", "thickness": 2, "size": 10},
 "encoding": {
  "x": {"field": "gene", "type": "nominal", "bandPosition": 0, "scale": {"domain": ["C5","CCL2","GM-CSF","IL1A","IL1B","IL8","ICAM1","TNF"], "paddingInner": 0, "paddingOuter": 0}, "axis": null},
  "y": {"datum": 0, "type": "quantitative", "scale": {"domain": [-3, 27], "nice": false, "zero": false}, "axis": {"values": [-3,2,7,12,17,22,27], "title": ["mRNA fold change", "log₂[Treatment/Control]"]}}
 }},
{"data": {"name": "c1_labels"}, "transform": [{"filter": "datum.gene == 'TNF'"}],
 "mark": {"type": "tick", "orient": "vertical", "color": "black", "thickness": 2, "size": 10},
 "encoding": {
  "x": {"field": "gene", "type": "nominal", "bandPosition": 1, "scale": {"domain": ["C5","CCL2","GM-CSF","IL1A","IL1B","IL8","ICAM1","TNF"], "paddingInner": 0, "paddingOuter": 0}, "axis": null},
  "y": {"datum": 0, "type": "quantitative", "scale": {"domain": [-3, 27], "nice": false, "zero": false}, "axis": {"values": [-3,2,7,12,17,22,27], "title": ["mRNA fold change", "log₂[Treatment/Control]"]}}
 }}
]
},
{
"width": 584, "height": 188,
"layer": [
{"data": {"name": "c2_bars"},
 "mark": {"type": "bar", "stroke": "black", "strokeWidth": 2.5},
 "encoding": {
  "x": {"field": "gene", "type": "nominal", "scale": {"domain": ["C5","CCL2","GM-CSF","IL1A","IL1B","IL8","ICAM1","TNF"], "paddingInner": 0, "paddingOuter": 0}, "axis": null},
  "xOffset": {"field": "series", "type": "nominal", "scale": {"domain": ["Acetate + NT","Acetate + TNF","Acetate + TPA","Acetate + PAM3CSK4","FFAR2 agonist + PAM3CSK4"], "paddingInner": 0, "paddingOuter": 0.55}},
  "y": {"field": "value", "type": "quantitative", "scale": {"domain": [-3, 2], "nice": false, "zero": false}, "axis": {"values": [-3,-2,-1,0,1,2], "title": ["mRNA fold change", "log2[Agonist/Control]"]}},
  "y2": {"datum": 0},
  "fill": {"field": "series", "type": "nominal", "scale": {"domain": ["Acetate + NT","Acetate + TNF","Acetate + TPA","Acetate + PAM3CSK4","FFAR2 agonist + PAM3CSK4"], "range": ["#ffffff","#333333","#99ccff","#ff9900","#ccffcc"]}, "legend": {"title": null, "orient": "none", "legendX": 26, "legendY": -29, "columns": 2, "columnPadding": 8, "symbolStrokeColor": "black", "rowPadding": 7}}
 }},
{"data": {"name": "c2_bars"}, "transform": [{"filter": "isValid(datum.lo)"}],
 "mark": {"type": "rule", "color": "black", "strokeWidth": 1.5},
 "encoding": {
  "x": {"field": "gene", "type": "nominal", "scale": {"domain": ["C5","CCL2","GM-CSF","IL1A","IL1B","IL8","ICAM1","TNF"], "paddingInner": 0, "paddingOuter": 0}, "axis": null},
  "xOffset": {"field": "series", "type": "nominal", "scale": {"domain": ["Acetate + NT","Acetate + TNF","Acetate + TPA","Acetate + PAM3CSK4","FFAR2 agonist + PAM3CSK4"], "paddingInner": 0, "paddingOuter": 0.55}},
  "y": {"field": "lo", "type": "quantitative", "scale": {"domain": [-3, 2], "nice": false, "zero": false}, "axis": {"values": [-3,-2,-1,0,1,2], "title": ["mRNA fold change", "log2[Agonist/Control]"]}},
  "y2": {"field": "hi"}
 }},
{"data": {"name": "c2_bars"}, "transform": [{"filter": "isValid(datum.lo)"}, {"fold": ["lo","hi"], "as": ["end","at"]}],
 "mark": {"type": "tick", "orient": "horizontal", "color": "black", "thickness": 1.5, "size": 10},
 "encoding": {
  "x": {"field": "gene", "type": "nominal", "scale": {"domain": ["C5","CCL2","GM-CSF","IL1A","IL1B","IL8","ICAM1","TNF"], "paddingInner": 0, "paddingOuter": 0}, "axis": null},
  "xOffset": {"field": "series", "type": "nominal", "scale": {"domain": ["Acetate + NT","Acetate + TNF","Acetate + TPA","Acetate + PAM3CSK4","FFAR2 agonist + PAM3CSK4"], "paddingInner": 0, "paddingOuter": 0.55}},
  "y": {"field": "at", "type": "quantitative", "scale": {"domain": [-3, 2], "nice": false, "zero": false}, "axis": {"values": [-3,-2,-1,0,1,2], "title": ["mRNA fold change", "log2[Agonist/Control]"]}}
 }},
{"data": {"name": "c2_stars"},
 "mark": {"type": "text", "fontSize": 15, "fontWeight": "bold", "baseline": "middle", "dy": 3},
 "encoding": {
  "x": {"field": "gene", "type": "nominal", "scale": {"domain": ["C5","CCL2","GM-CSF","IL1A","IL1B","IL8","ICAM1","TNF"], "paddingInner": 0, "paddingOuter": 0}, "axis": null},
  "xOffset": {"field": "series", "type": "nominal", "scale": {"domain": ["Acetate + NT","Acetate + TNF","Acetate + TPA","Acetate + PAM3CSK4","FFAR2 agonist + PAM3CSK4"], "paddingInner": 0, "paddingOuter": 0.55}},
  "y": {"field": "level", "type": "quantitative", "scale": {"domain": [-3, 2], "nice": false, "zero": false}, "axis": {"values": [-3,-2,-1,0,1,2], "title": ["mRNA fold change", "log2[Agonist/Control]"]}},
  "text": {"field": "mark"}
 }},
{"data": {"name": "c2_ndv"},
 "mark": {"type": "text", "fontSize": 16, "fontWeight": "bold", "baseline": "middle", "align": "center", "angle": 270, "text": "ND"},
 "encoding": {
  "x": {"field": "gene", "type": "nominal", "scale": {"domain": ["C5","CCL2","GM-CSF","IL1A","IL1B","IL8","ICAM1","TNF"], "paddingInner": 0, "paddingOuter": 0}, "axis": null},
  "xOffset": {"field": "series", "type": "nominal", "scale": {"domain": ["Acetate + NT","Acetate + TNF","Acetate + TPA","Acetate + PAM3CSK4","FFAR2 agonist + PAM3CSK4"], "paddingInner": 0, "paddingOuter": 0.55}},
  "y": {"field": "level", "type": "quantitative", "scale": {"domain": [-3, 2], "nice": false, "zero": false}, "axis": {"values": [-3,-2,-1,0,1,2], "title": ["mRNA fold change", "log2[Agonist/Control]"]}}
 }},
{"data": {"name": "c2_labels"},
 "mark": {"type": "text", "fontSize": 18, "fontWeight": "bold", "fontStyle": "italic", "baseline": "middle"},
 "encoding": {
  "x": {"field": "gene", "type": "nominal", "scale": {"domain": ["C5","CCL2","GM-CSF","IL1A","IL1B","IL8","ICAM1","TNF"], "paddingInner": 0, "paddingOuter": 0}, "axis": null},
  "y": {"field": "level", "type": "quantitative", "scale": {"domain": [-3, 2], "nice": false, "zero": false}, "axis": {"values": [-3,-2,-1,0,1,2], "title": ["mRNA fold change", "log2[Agonist/Control]"]}},
  "text": {"field": "gene"}
 }},
{"data": {"name": "c2_nd"},
 "mark": {"type": "text", "fontSize": 17, "fontWeight": "bold", "baseline": "middle", "text": "ND"},
 "encoding": {
  "x": {"field": "gene", "type": "nominal", "scale": {"domain": ["C5","CCL2","GM-CSF","IL1A","IL1B","IL8","ICAM1","TNF"], "paddingInner": 0, "paddingOuter": 0}, "axis": null},
  "y": {"field": "level", "type": "quantitative", "scale": {"domain": [-3, 2], "nice": false, "zero": false}, "axis": {"values": [-3,-2,-1,0,1,2], "title": ["mRNA fold change", "log2[Agonist/Control]"]}}
 }},
{"data": {"name": "c2_labels"},
 "mark": {"type": "rule", "color": "black", "strokeWidth": 2.5},
 "encoding": {"y": {"datum": 0, "type": "quantitative", "scale": {"domain": [-3, 2], "nice": false, "zero": false}, "axis": {"values": [-3,-2,-1,0,1,2], "title": ["mRNA fold change", "log2[Agonist/Control]"]}}}},
{"data": {"name": "c2_labels"},
 "mark": {"type": "tick", "orient": "vertical", "color": "black", "thickness": 2, "size": 10},
 "encoding": {
  "x": {"field": "gene", "type": "nominal", "bandPosition": 0, "scale": {"domain": ["C5","CCL2","GM-CSF","IL1A","IL1B","IL8","ICAM1","TNF"], "paddingInner": 0, "paddingOuter": 0}, "axis": null},
  "y": {"datum": 0, "type": "quantitative", "scale": {"domain": [-3, 2], "nice": false, "zero": false}, "axis": {"values": [-3,-2,-1,0,1,2], "title": ["mRNA fold change", "log2[Agonist/Control]"]}}
 }},
{"data": {"name": "c2_labels"}, "transform": [{"filter": "datum.gene == 'TNF'"}],
 "mark": {"type": "tick", "orient": "vertical", "color": "black", "thickness": 2, "size": 10},
 "encoding": {
  "x": {"field": "gene", "type": "nominal", "bandPosition": 1, "scale": {"domain": ["C5","CCL2","GM-CSF","IL1A","IL1B","IL8","ICAM1","TNF"], "paddingInner": 0, "paddingOuter": 0}, "axis": null},
  "y": {"datum": 0, "type": "quantitative", "scale": {"domain": [-3, 2], "nice": false, "zero": false}, "axis": {"values": [-3,-2,-1,0,1,2], "title": ["mRNA fold change", "log2[Agonist/Control]"]}}
 }}
]
}
],
"config": {
"view": {"stroke": null},
"font": "Liberation Sans",
"locale": {"number": {"decimal": ".", "thousands": ",", "grouping": [3], "currency": ["$", ""], "minus": "-"}},
"axis": {"grid": false, "domainColor": "black", "domainWidth": 2.5, "tickColor": "black", "tickWidth": 2.5, "tickSize": 6, "labelFont": "Liberation Sans", "labelFontSize": 17, "labelFontWeight": "bold", "labelColor": "black", "labelPadding": 3, "titleFont": "Liberation Sans", "titleFontSize": 20, "titleFontWeight": "bold", "titleColor": "black", "titlePadding": 13, "titleLineHeight": 25},
"legend": {"labelFont": "Liberation Sans", "labelFontSize": 18, "labelFontWeight": "bold", "labelColor": "black", "labelLimit": 400, "symbolType": "square", "symbolSize": 170, "symbolStrokeWidth": 2.5, "padding": 0, "labelOffset": 5},
"title": {"font": "Liberation Sans", "fontSize": 28, "fontWeight": "bold", "color": "black"},
"text": {"font": "Liberation Sans", "color": "black"}
}
}
